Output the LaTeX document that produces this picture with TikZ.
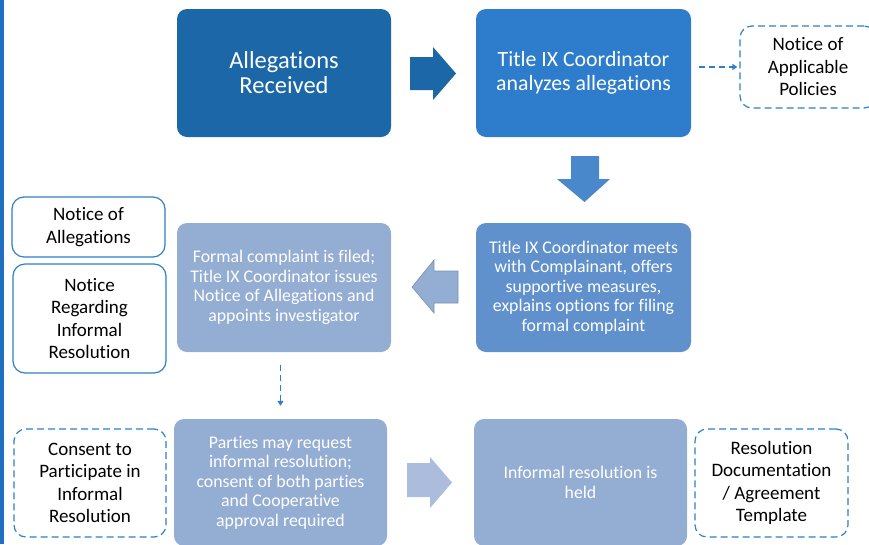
\documentclass[tikz,border=0pt]{standalone}
\usepackage{fontspec}
\setmainfont{Carlito}[RawFeature=-liga]
\usetikzlibrary{arrows.meta}
\definecolor{barblue}{RGB}{31,111,192}
\definecolor{cA}{RGB}{27,103,168}
\definecolor{cB}{RGB}{46,124,204}
\definecolor{cDown}{RGB}{74,136,204}
\definecolor{cC}{RGB}{96,145,205}
\definecolor{cLight}{RGB}{148,173,211}
\definecolor{cLeftLine}{RGB}{125,145,175}
\definecolor{cBotArrow}{RGB}{171,188,221}
\definecolor{outline}{RGB}{46,128,200}
\begin{document}
\begin{tikzpicture}[x=1pt,y=-1pt,
  box/.style={rounded corners=10pt, align=center, text=white, inner sep=0pt},
  bigtext/.style={font=\fontsize{24.5}{25}\selectfont},
  midtext/.style={font=\fontsize{21.8}{23.5}\selectfont},
  smalltext/.style={font=\fontsize{17.8}{19.5}\selectfont},
  docbox/.style={rounded corners=12pt, align=center, text=black, inner sep=0pt,
    draw=outline, line width=1.2pt, fill=white, font=\fontsize{19}{22.5}\selectfont},
  dashbox/.style={docbox, dash pattern=on 7pt off 4pt},
  dconn/.style={draw=outline, line width=1.3pt, dash pattern=on 6pt off 4pt,
    -{Triangle[length=5pt,width=6pt]}}
]
\useasboundingbox (0,0) rectangle (869,544);
\fill[barblue] (0,0) rectangle (4,544);

% main boxes
\node[box, bigtext, fill=cA, minimum width=214pt, minimum height=128pt] (A) at (284,73) {Allegations\\Received};
\node[box, midtext, fill=cB, minimum width=215pt, minimum height=128pt] (B) at (583.5,73) {Title IX Coordinator\\analyzes allegations};
\node[box, smalltext, fill=cC, minimum width=215pt, minimum height=129pt] (C) at (583.5,287.5) {Title IX Coordinator meets\\with Complainant, offers\\supportive measures,\\explains options for filing\\formal complaint};
\node[box, smalltext, fill=cLight, minimum width=214pt, minimum height=129pt] (D) at (284,287.5) {Formal complaint is filed;\\Title IX Coordinator issues\\Notice of Allegations and\\appoints investigator};
\node[box, smalltext, fill=cLight, minimum width=213pt, minimum height=127pt] (E) at (280.5,482.5) {Parties may request\\informal resolution;\\consent of both parties\\and Cooperative\\approval required};
\node[box, smalltext, fill=cLight, minimum width=213pt, minimum height=127pt] (F) at (580.5,482.5) {Informal resolution is\\held};

% document boxes
\node[dashbox, minimum width=136pt, minimum height=82pt] (P) at (808,67) {Notice of\\Applicable\\Policies};
\node[docbox, minimum width=153pt, minimum height=60pt] (N1) at (88.5,227) {Notice of\\Allegations};
\node[docbox, minimum width=153pt, minimum height=109pt] (N2) at (89.5,318.5) {Notice\\Regarding\\Informal\\Resolution};
\node[dashbox, minimum width=152pt, minimum height=108pt] (CO) at (90,483) {Consent to\\Participate in\\Informal\\Resolution};
\node[dashbox, minimum width=153pt, minimum height=108pt] (R) at (771.5,483) {Resolution\\Documentation\\/ Agreement\\Template};

% block arrows
\fill[cA] (410,57) -- (433,57) -- (433,47) -- (456,73.5) -- (433,100) -- (433,90) -- (410,90) -- cycle;
\fill[cDown] (571,156) -- (599,156) -- (599,179) -- (610,179) -- (584.5,202) -- (557,179) -- (571,179) -- cycle;
\filldraw[fill=cLight, draw=cLeftLine, line width=0.6pt] (458,271) -- (434,271) -- (434,260) -- (412,287) -- (434,313) -- (434,303) -- (458,303) -- cycle;
\fill[cBotArrow] (407,463) -- (430,463) -- (430,457) -- (452,482.5) -- (430,508) -- (430,497) -- (407,497) -- cycle;

% dashed connectors
\draw[dconn, shorten <=8pt, shorten >=2pt] (B.east |- P.west) -- (P.west);
\draw[dconn, shorten <=13pt, shorten >=13pt] (E.north |- D.south) -- (E.north);
\end{tikzpicture}
\end{document}
